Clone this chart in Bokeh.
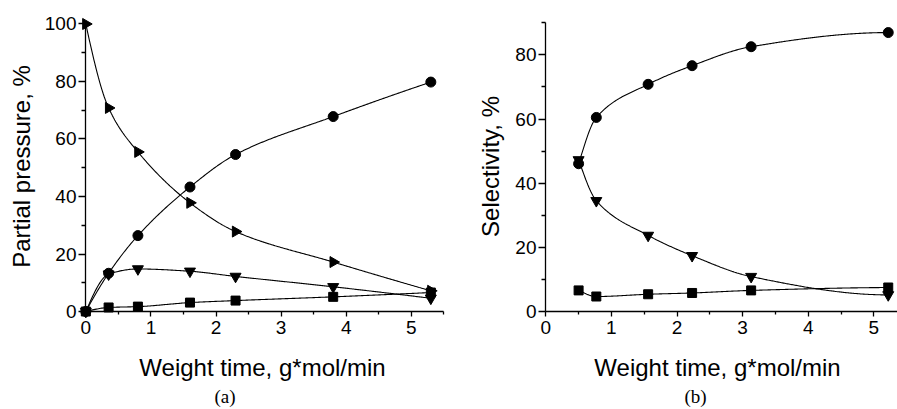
import numpy as np
from bokeh.plotting import figure
from bokeh.layouts import row
from bokeh.models import Range1d, FixedTicker, LinearAxis, Title
from bokeh.embed import file_html
from bokeh.resources import INLINE

# ---------------- data (a) ----------------
wt_a = [0.0, 0.35, 0.8, 1.6, 2.3, 3.8, 5.3]
pp_tri_right = [100, 70.8, 55.5, 37.8, 27.8, 17.2, 7.2]
pp_circle = [0, 13.3, 26.4, 43.3, 54.6, 67.8, 79.8]
pp_tri_down = [0, 13.0, 14.8, 14.0, 12.2, 8.6, 4.6]
pp_square = [0, 1.4, 1.7, 3.1, 3.8, 5.1, 6.6]

# ---------------- data (b) ----------------
wt_b = [0.5, 0.77, 1.56, 2.23, 3.13, 5.22]
sel_circle = [46.1, 60.5, 70.8, 76.6, 82.5, 86.9]
sel_tri_down = [47.3, 34.6, 23.8, 17.5, 11.0, 5.3]
sel_square = [6.7, 4.8, 5.5, 5.9, 6.7, 7.6]

# ---------------- ticks ----------------
x_major = [0, 1, 2, 3, 4, 5]
x_minor = [0.5, 1.5, 2.5, 3.5, 4.5, 5.5]
y_major_a = [0, 20, 40, 60, 80, 100]
y_minor_a = [10, 30, 50, 70, 90]
y_major_b = [0, 20, 40, 60, 80]
y_minor_b = [10, 30, 50, 70, 90]

FONT = "Liberation Sans"
SERIF = "Liberation Serif"


def pchip(xs, ys, n=300):
    xs = np.asarray(xs, float)
    ys = np.asarray(ys, float)
    h = np.diff(xs)
    d = np.diff(ys) / h
    m = np.zeros_like(ys)
    for k in range(1, len(xs) - 1):
        if d[k - 1] * d[k] <= 0:
            m[k] = 0.0
        else:
            w1 = 2 * h[k] + h[k - 1]
            w2 = h[k] + 2 * h[k - 1]
            m[k] = (w1 + w2) / (w1 / d[k - 1] + w2 / d[k])

    def end(h0, h1, d0, d1):
        m0 = ((2 * h0 + h1) * d0 - h0 * d1) / (h0 + h1)
        if np.sign(m0) != np.sign(d0):
            m0 = 0.0
        elif np.sign(d0) != np.sign(d1) and abs(m0) > abs(3 * d0):
            m0 = 3 * d0
        return m0

    m[0] = end(h[0], h[1], d[0], d[1])
    m[-1] = end(h[-1], h[-2], d[-1], d[-2])
    xx = np.linspace(xs[0], xs[-1], n)
    idx = np.clip(np.searchsorted(xs, xx) - 1, 0, len(h) - 1)
    t = (xx - xs[idx]) / h[idx]
    h00 = 2 * t**3 - 3 * t**2 + 1
    h10 = t**3 - 2 * t**2 + t
    h01 = -2 * t**3 + 3 * t**2
    h11 = t**3 - t**2
    yy = h00 * ys[idx] + h10 * h[idx] * m[idx] + h01 * ys[idx + 1] + h11 * h[idx] * m[idx + 1]
    return xx, yy


def tick_axis(bounds, ticks, tick_len, line=True):
    return LinearAxis(fixed_location=0, bounds=bounds,
                      ticker=FixedTicker(ticks=[], minor_ticks=ticks),
                      axis_line_color="black" if line else None, axis_line_width=1.3,
                      major_tick_line_color=None, minor_tick_line_color="black",
                      minor_tick_line_width=1.3, minor_tick_in=0, minor_tick_out=tick_len,
                      major_tick_in=0, major_tick_out=0, major_label_standoff=0)


def style_axes(p, xb, yb, ylabel, y_major, y_minor, ylab_standoff, panel_letter, letter_offset):
    # label-only axes at the frame edges
    p.xaxis.ticker = FixedTicker(ticks=x_major)
    p.yaxis.ticker = FixedTicker(ticks=y_major)
    p.xaxis.axis_label = "Weight time, g*mol/min"
    p.yaxis.axis_label = ylabel
    for ax in (p.xaxis, p.yaxis):
        ax.axis_line_color = None
        ax.major_tick_line_color = None
        ax.minor_tick_line_color = None
        ax.major_tick_in = 0
        ax.minor_tick_in = 0
        ax.major_tick_out = 0
        ax.minor_tick_out = 0
        ax.major_label_text_font = FONT
        ax.major_label_text_font_size = "19px"
        ax.major_label_text_color = "black"
        ax.axis_label_text_font = FONT
        ax.axis_label_text_font_size = "24px"
        ax.axis_label_text_font_style = "normal"
        ax.axis_label_text_color = "black"
    p.xaxis.major_label_standoff = 1
    p.xaxis.axis_label_standoff = 17
    p.yaxis.major_label_standoff = 1
    p.yaxis.axis_label_standoff = ylab_standoff

    # axis lines and ticks, fixed at the data origin
    p.add_layout(tick_axis(xb, x_major, 5), "below")
    p.add_layout(tick_axis(xb, x_minor, 3, line=False), "below")
    p.add_layout(tick_axis(yb, y_major, 7), "left")
    p.add_layout(tick_axis(yb, y_minor, 4, line=False), "left")

    p.add_layout(Title(text=panel_letter, align="left", offset=letter_offset,
                       text_font=SERIF, text_font_size="19px", text_font_style="normal",
                       text_color="black", standoff=0), "below")

    p.xgrid.visible = False
    p.ygrid.visible = False
    p.outline_line_color = None


def series(p, xs, ys, marker, size, angle=0.0):
    cx, cy = pchip(xs, ys)
    p.line(cx, cy, line_color="black", line_width=1.1)
    p.scatter(xs, ys, marker=marker, size=size, angle=angle,
              fill_color="black", line_color="black")


# ---------------- figure (a) ----------------
pa = figure(width=450, height=409, output_backend="svg", toolbar_location=None,
            x_range=Range1d(-0.128, 5.556), y_range=Range1d(-2.78, 103.65),
            min_border_left=77, min_border_right=3, min_border_top=13, min_border_bottom=90)
style_axes(pa, (0, 5.5), (0, 100), "Partial pressure, %", y_major_a, y_minor_a, 7, "(a)", 137)
series(pa, wt_a, pp_square, "square", 9)
series(pa, wt_a, pp_tri_down, "inverted_triangle", 11)
series(pa, wt_a, pp_circle, "circle", 10)
series(pa, wt_a, pp_tri_right, "triangle", 11, angle=-np.pi / 2)

# ---------------- figure (b) ----------------
pb = figure(width=447, height=409, output_backend="svg", toolbar_location=None,
            x_range=Range1d(-0.1265, 5.361), y_range=Range1d(-2.35, 92.83),
            min_border_left=87, min_border_right=0, min_border_top=12, min_border_bottom=89)
style_axes(pb, (0, 5.361), (0, 90), "Selectivity, %", y_major_b, y_minor_b, 8, "(b)", 147)
series(pb, wt_b, sel_square, "square", 9)
series(pb, wt_b, sel_tri_down, "inverted_triangle", 11)
series(pb, wt_b, sel_circle, "circle", 10)

layout = row(pa, pb, spacing=0)
open("out.html", "w").write(file_html(layout, INLINE))
